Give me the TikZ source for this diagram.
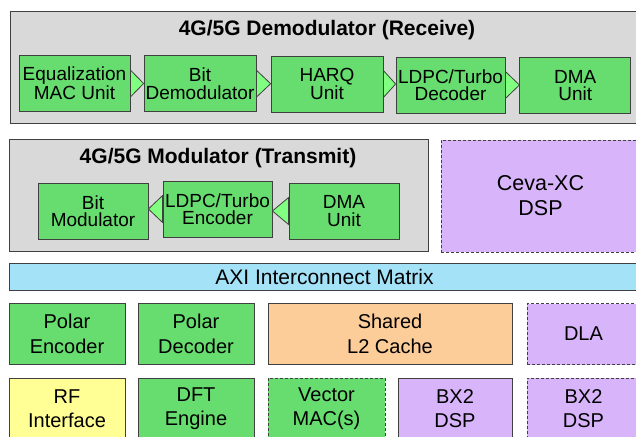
\documentclass[tikz,border=0pt]{standalone}
\usepackage{fontspec}
\setmainfont{Liberation Sans}
\definecolor{edgegray}{RGB}{64,64,64}
\definecolor{grpgray}{RGB}{217,217,217}
\definecolor{blkgreen}{RGB}{102,221,110}
\definecolor{trigreen}{RGB}{128,255,128}
\definecolor{dsppurple}{RGB}{216,180,250}
\definecolor{cacheorange}{RGB}{252,204,153}
\definecolor{rfyellow}{RGB}{255,255,150}
\definecolor{axiblue}{RGB}{164,226,248}
\begin{document}
\begin{tikzpicture}[x=1pt,y=-1pt,
  box/.style={draw=edgegray,line width=.8pt,inner sep=0pt,align=center},
  grp/.style={box,fill=grpgray},
  blk/.style={box,fill=blkgreen,minimum height=56pt,
    font=\fontsize{19}{17.5}\selectfont},
  tile/.style={box,minimum height=61pt,font=\fontsize{20}{24.5}\selectfont},
  opt/.style={dash pattern=on 3pt off 2pt},
  ttl/.style={font=\fontsize{21}{21}\selectfont\bfseries},
  tri/.style={draw=edgegray,line width=.8pt,fill=trigreen}]
\useasboundingbox (0,0) rectangle (636,436);
\clip (0,0) rectangle (636,436);
%
% demodulator (receive)
\node[grp,minimum width=630pt,minimum height=112pt] (demod) at (325,67) {};
\node[ttl] (demodttl) at (327,30) {4G/5G Demodulator (Receive)};
\foreach \nm/\xc/\yc/\bw/\txt in {eq/74.5/83.5/111/{Equalization\\MAC Unit},
  bd/200/83.7/112/{Bit\\Demodulator},harq/327/84/112/{HARQ\\Unit},
  dec/450.5/85/109/{LDPC/Turbo\\Decoder},dmar/575.3/85.8/111/{DMA\\Unit}}
\node[blk,minimum width=\bw pt] (\nm) at (\xc,\yc) {\txt};
\foreach \a/\b in {eq/bd,bd/harq,harq/dec,dec/dmar}
\draw[tri] ([yshift=13.5pt]\a.east) -- (\a.east -| \b.west)
  -- ([yshift=-13.5pt]\a.east) -- cycle;
%
% modulator (transmit)
\node[grp,minimum width=419pt,minimum height=112pt] (mod) at (218.5,195) {};
\node[ttl] (modttl) at (218,158) {4G/5G Modulator (Transmit)};
\node[blk,minimum width=110pt] (bm) at (93,211) {Bit\\Modulator};
\node[blk,minimum width=109pt] (enc) at (217.5,209) {LDPC/Turbo\\Encoder};
\node[blk,minimum width=110pt] (dmat) at (344,211) {DMA\\Unit};
\foreach \a/\b in {dmat/enc,enc/bm}
\draw[tri] ([yshift=13.5pt]\a.west) -- (\a.west -| \b.east)
  -- ([yshift=-13.5pt]\a.west) -- cycle;
%
\node[box,opt,fill=dsppurple,minimum width=199pt,minimum height=112pt,
  font=\fontsize{21.5}{25}\selectfont] (ceva) at (540.5,196) {Ceva-XC\\DSP};
\node[box,fill=axiblue,minimum width=631pt,minimum height=27.4pt,
  font=\fontsize{21}{21}\selectfont] (axi) at (324.5,277) {AXI Interconnect Matrix};
%
% blocks on the bus
\node[tile,fill=blkgreen,minimum width=116pt] (polenc) at (67,334) {Polar\\Encoder};
\node[tile,fill=blkgreen,minimum width=116pt] (poldec) at (196,334) {Polar\\Decoder};
\node[tile,fill=cacheorange,minimum width=244pt] (cache) at (390,334) {Shared\\L2 Cache};
\node[tile,opt,fill=dsppurple,minimum width=113pt] (dla) at (583.5,334) {DLA};
\node[tile,fill=rfyellow,minimum width=116pt] (rf) at (67,408.5) {RF\\Interface};
\node[tile,fill=blkgreen,minimum width=116pt] (dft) at (196,408.5) {DFT\\Engine};
\node[tile,opt,fill=blkgreen,minimum width=117pt] (vmac) at (326.5,408.5) {Vector\\MAC(s)};
\node[tile,fill=dsppurple,minimum width=114pt] (bxa) at (455,408.5) {BX2\\DSP};
\node[tile,opt,fill=dsppurple,minimum width=113pt] (bxb) at (583.5,408.5) {BX2\\DSP};
\end{tikzpicture}
\end{document}
